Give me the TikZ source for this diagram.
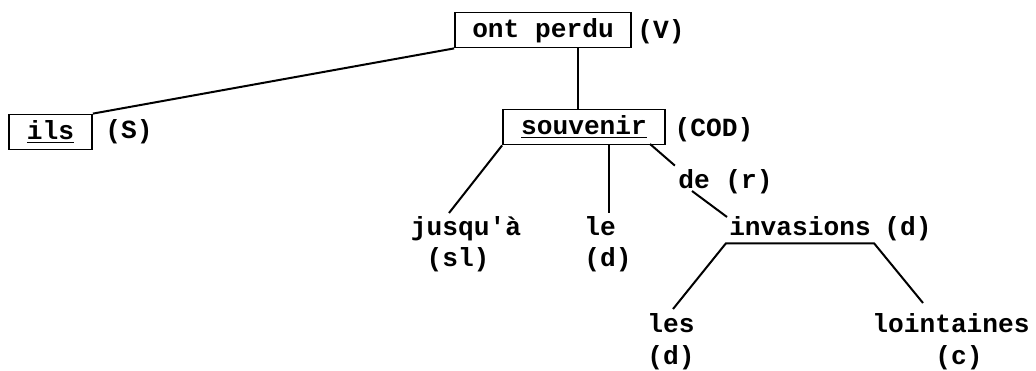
\documentclass[tikz,border=0pt]{standalone}
\usepackage{fontspec}
\setmonofont{Liberation Mono}
\usepackage{tikz}
\usetikzlibrary{positioning}

\begin{document}
\begin{tikzpicture}[x=0.5pt, y=-0.5pt,
    word/.style={font=\ttfamily\bfseries\fontsize{13.1}{15}\selectfont, inner sep=1.5pt,
      text height=9.5pt, text depth=2.5pt},
    boxword/.style={word, draw, line width=0.9pt, minimum height=17.5pt},
    branch/.style={line width=1pt}]
  \useasboundingbox (0,0) rectangle (1036,370);

  % top of the tree
  \node[boxword, minimum width=88pt] (perdu) at (543,30) {ont perdu};
  \node[word] (v) at (661,31) {(V)};

  \node[boxword, minimum width=41.5pt] (ils) at (50.5,132) {\underline{ils}};
  \node[word] (s) at (129,131) {(S)};

  \node[boxword, minimum width=81pt] (souv) at (584,127) {\underline{souvenir}};
  \node[word] (cod) at (714,129) {(COD)};

  % dependents of souvenir
  \node[word] (jusqu) at (466,228) {jusqu'à};
  \node[word] (sl) at (458,259) {(sl)};
  \node[word] (le) at (600,228) {le};
  \node[word] (d1) at (608,259) {(d)};
  \node[word] (de) at (694,181) {de};
  \node[word] (r) at (749,181) {(r)};
  \node[word] (inv) at (800,228) {invasions};
  \node[word] (d2) at (908,228) {(d)};

  % dependents of invasions
  \node[word] (les) at (671,325) {les};
  \node[word] (d3) at (671,357) {(d)};
  \node[word] (loin) at (951,325) {lointaines};
  \node[word] (c) at (959,357) {(c)};

  \coordinate (souvr) at (650,144);
  \coordinate (jtop) at (449,213);
  \coordinate (debot) at (692,191);
  \coordinate (invtop) at (727,217);
  \coordinate (ltop) at (673,309);
  \coordinate (otop) at (923,303);

  \draw[branch] (ils.north east) -- (perdu.south west);
  \draw[branch] (souv.north -| 578,0) -- (perdu.south -| 578,0);
  \draw[branch] (souv.south west) -- (jtop);
  \draw[branch] (souv.south -| 609,0) -- (le.north -| 609,0);
  \draw[branch] (souvr) -- (de.north west);
  \draw[branch] (debot) -- (invtop);
  \draw[branch] (ltop) -- (inv.south west) -- (inv.south east) -- (otop);
\end{tikzpicture}
\end{document}
